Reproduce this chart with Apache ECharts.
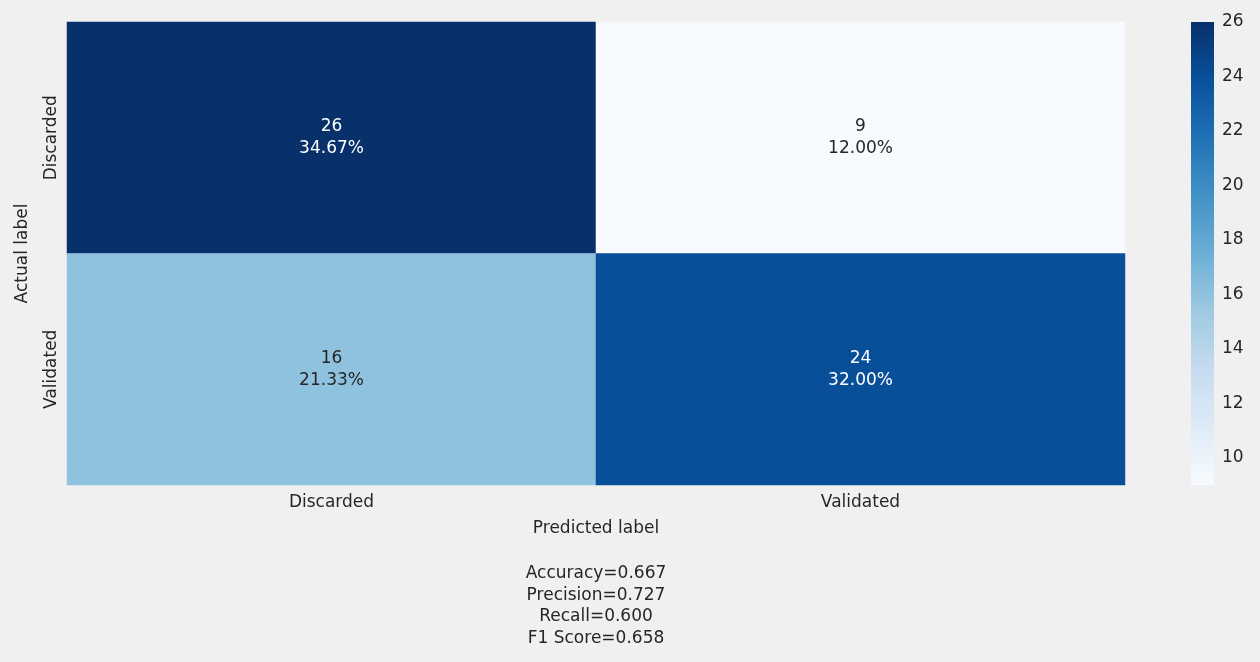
<!DOCTYPE html>
<html><head><meta charset="utf-8">
<script src="https://cdn.jsdelivr.net/npm/echarts@6/dist/echarts.min.js"></script>
<style>html,body{margin:0;padding:0;background:#f0f0f0;}#c{width:1260px;height:662px;}</style>
</head><body><div id="c"></div>
<script>
const predictedLabels = ['Discarded', 'Validated'];
const actualLabels = ['Discarded', 'Validated'];
// [predictedIndex, actualIndex, count]
const counts = [[0, 0, 26], [1, 0, 9], [0, 1, 16], [1, 1, 24]];
const percents = ['34.67%', '12.00%', '21.33%', '32.00%'];
const colorbarTicks = [10, 12, 14, 16, 18, 20, 22, 24, 26];
const metricLines = ['Accuracy=0.667', 'Precision=0.727', 'Recall=0.600', 'F1 Score=0.658'];
const vMin = 9, vMax = 26;

const FONT = '"DejaVu Sans", "Noto Sans CJK KR", sans-serif';
const FS = 17;
const blues = ['#f7fbff','#deebf7','#c6dbef','#9ecae1','#6baed6','#4292c6','#2171b5','#08519c','#08306b'];

const chart = echarts.init(document.getElementById('c'));
const data = counts.map((d, i) => ({
  value: d, pct: percents[i],
  label: { color: d[2] > 17.5 ? '#ffffff' : '#262626' }
}));

// colorbar gradient (bottom = min, top = max)
const stops = blues.map((c, i) => ({ offset: 1 - i / (blues.length - 1), color: c }));

chart.setOption({
  backgroundColor: '#f0f0f0',
  textStyle: { fontFamily: FONT },
  grid: [
    { left: 67, top: 22, width: 1058, height: 463 },
    { left: 1191, top: 22, width: 23, height: 463 }
  ],
  xAxis: [
    { type: 'category', data: predictedLabels, gridIndex: 0,
      axisLine: { show: false }, axisTick: { show: false }, splitLine: { show: false },
      axisLabel: { fontSize: FS, color: '#262626', margin: 9, fontFamily: FONT },
      name: 'Predicted label', nameLocation: 'middle', nameGap: 35,
      nameTextStyle: { fontSize: FS, color: '#262626', fontFamily: FONT } },
    { type: 'value', gridIndex: 1, show: false, min: 0, max: 1 }
  ],
  yAxis: [
    { type: 'category', data: actualLabels, gridIndex: 0, inverse: true,
      axisLine: { show: false }, axisTick: { show: false }, splitLine: { show: false },
      axisLabel: { fontSize: FS, color: '#262626', rotate: 90, margin: 7, fontFamily: FONT },
      name: 'Actual label', nameLocation: 'middle', nameGap: 36, nameRotate: 90,
      nameTextStyle: { fontSize: FS, color: '#262626', fontFamily: FONT } },
    { type: 'value', gridIndex: 1, position: 'right', min: vMin, max: vMax,
      axisLine: { show: false }, axisTick: { show: false }, splitLine: { show: false },
      axisLabel: { customValues: colorbarTicks, fontSize: FS, color: '#262626', margin: 8,
        padding: [4, 0, 0, 0], fontFamily: FONT } }
  ],
  visualMap: {
    type: 'continuous', min: vMin, max: vMax, seriesIndex: 0, show: false,
    inRange: { color: blues }
  },
  series: [{
    type: 'heatmap', xAxisIndex: 0, yAxisIndex: 0, data: data,
    label: {
      show: true, fontSize: FS, lineHeight: 22, fontFamily: FONT,
      padding: [2, 0, 0, 0],
      formatter: p => p.value[2] + '\n' + p.data.pct
    },
    emphasis: { disabled: true }
  }],
  graphic: [
    { type: 'rect', shape: { x: 1191, y: 22, width: 23, height: 463 },
      style: { fill: new echarts.graphic.LinearGradient(0, 0, 0, 1, stops.slice().reverse()) },
      silent: true },
    { type: 'text', x: 596, y: 563,
      style: { text: metricLines.join('\n'), align: 'center', verticalAlign: 'top',
        fontSize: FS, lineHeight: 21.5, fill: '#262626', fontFamily: FONT } }
  ]
});
</script></body></html>
